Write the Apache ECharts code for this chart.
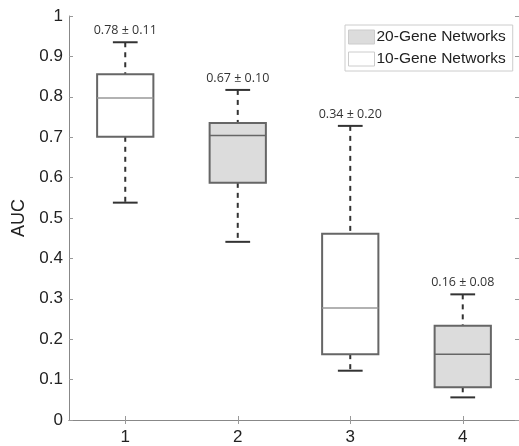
<!DOCTYPE html>
<html><head><meta charset="utf-8">
<script src="https://cdn.jsdelivr.net/npm/echarts@6/dist/echarts.min.js"></script>
<style>html,body{margin:0;padding:0;background:#fff}#c{width:519px;height:446px}</style>
</head><body><div id="c"></div>
<script>
var categories = ['1', '2', '3', '4'];
var yTicks = [0, 0.1, 0.2, 0.3, 0.4, 0.5, 0.6, 0.7, 0.8, 0.9, 1];
// [category index, lower whisker, q1, median, q3, upper whisker]
var tenGene = [[0, 0.538, 0.701, 0.797, 0.856, 0.935], [2, 0.122, 0.163, 0.277, 0.461, 0.728]];
var twentyGene = [[1, 0.441, 0.587, 0.704, 0.735, 0.817], [3, 0.056, 0.081, 0.163, 0.233, 0.311]];
var annotations = ['0.78 ± 0.11', '0.67 ± 0.10', '0.34 ± 0.20', '0.16 ± 0.08'];

function makeRender(fill, medColor) {
  return function (params, api) {
    var x = api.value(0);
    var lo = api.coord([x, api.value(1)]);
    var q1 = api.coord([x, api.value(2)]);
    var md = api.coord([x, api.value(3)]);
    var q3 = api.coord([x, api.value(4)]);
    var hi = api.coord([x, api.value(5)]);
    var band = api.size([1, 0])[0];
    var bw = band * 0.5, cw = band * 0.22;
    var cx = lo[0];
    var dash = {stroke: '#333', lineWidth: 2, lineDash: [5, 5]};
    var solid = {stroke: '#333', lineWidth: 2};
    return {type: 'group', children: [
      {type: 'line', shape: {x1: cx, y1: hi[1], x2: cx, y2: q3[1]}, style: dash},
      {type: 'line', shape: {x1: cx, y1: q1[1], x2: cx, y2: lo[1]}, style: dash},
      {type: 'line', shape: {x1: cx - cw / 2, y1: hi[1], x2: cx + cw / 2, y2: hi[1]}, style: solid},
      {type: 'line', shape: {x1: cx - cw / 2, y1: lo[1], x2: cx + cw / 2, y2: lo[1]}, style: solid},
      {type: 'rect', shape: {x: cx - bw / 2, y: q3[1], width: bw, height: q1[1] - q3[1]},
        style: {fill: fill, stroke: '#666', lineWidth: 2}},
      {type: 'line', shape: {x1: cx - bw / 2, y1: md[1], x2: cx + bw / 2, y2: md[1]},
        style: {stroke: medColor, lineWidth: 1.5}},
      {type: 'text', x: cx, y: hi[1] - 5, style: {text: annotations[x], fill: '#333',
        font: '12.5px "Open Sans", "Noto Sans", sans-serif', align: 'center', verticalAlign: 'bottom'}}
    ]};
  };
}

var chart = echarts.init(document.getElementById('c'), null, {renderer: 'canvas'});
var axisLine = {show: true, lineStyle: {color: '#888', width: 1}};
chart.setOption({
  animation: false,
  backgroundColor: '#fff',
  grid: {left: 69, top: 16, width: 455, height: 405, containLabel: false},
  legend: {
    orient: 'vertical', left: 345, top: 25, itemWidth: 26, itemHeight: 14, itemGap: 6,
    padding: [4, 7, 4, 3], backgroundColor: '#fff', borderColor: '#ccc', borderWidth: 1,
    icon: 'rect', selectedMode: false,
    textStyle: {fontFamily: 'Liberation Sans, Arial', fontSize: 15.5, color: '#222', padding: [0, 0, 0, -3]},
    data: [
      {name: '20-Gene Networks', itemStyle: {color: '#dcdcdc', borderColor: '#ccc', borderWidth: 1}},
      {name: '10-Gene Networks', itemStyle: {color: '#fff', borderColor: '#ccc', borderWidth: 1}}
    ]
  },
  xAxis: [
    {type: 'category', data: categories, position: 'bottom', boundaryGap: true,
      axisLine: axisLine, axisTick: {show: true, inside: true, alignWithLabel: true, length: 4, lineStyle: {color: '#999'}},
      axisLabel: {fontFamily: 'Liberation Sans, Arial', fontSize: 17, color: '#222', margin: 9}},
    {type: 'category', data: categories, position: 'top', boundaryGap: true,
      axisLine: axisLine, axisTick: {show: true, inside: true, alignWithLabel: true, length: 4, lineStyle: {color: '#999'}},
      axisLabel: {show: false}}
  ],
  yAxis: [
    {type: 'value', min: 0, max: 1, interval: 0.1, position: 'left',
      name: 'AUC', nameLocation: 'middle', nameGap: 33, nameRotate: 90,
      nameTextStyle: {fontFamily: 'Liberation Sans, Arial', fontSize: 18, color: '#222'},
      axisLine: axisLine, splitLine: {show: false},
      axisTick: {show: true, inside: true, length: 4, lineStyle: {color: '#999'}},
      axisLabel: {fontFamily: 'Liberation Sans, Arial', fontSize: 17, color: '#222', margin: 6,
        formatter: function (v) { return String(+v.toFixed(1)); }}},
    {type: 'value', min: 0, max: 1, interval: 0.1, position: 'right',
      axisLine: axisLine, splitLine: {show: false},
      axisTick: {show: true, inside: true, length: 4, lineStyle: {color: '#999'}},
      axisLabel: {show: false}}
  ],
  series: [
    {name: '20-Gene Networks', type: 'custom', renderItem: makeRender('#dcdcdc', '#666'),
      itemStyle: {color: '#dcdcdc', borderColor: '#ccc', borderWidth: 1},
      encode: {x: 0, y: [1, 2, 3, 4, 5]}, data: twentyGene},
    {name: '10-Gene Networks', type: 'custom', renderItem: makeRender('#fff', '#999'),
      itemStyle: {color: '#fff', borderColor: '#ccc', borderWidth: 1},
      encode: {x: 0, y: [1, 2, 3, 4, 5]}, data: tenGene}
  ]
});
</script></body></html>
